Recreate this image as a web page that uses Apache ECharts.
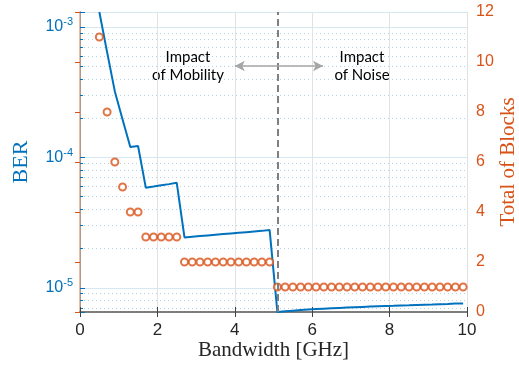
<!DOCTYPE html>
<html>
<head>
<meta charset="utf-8">
<script src="https://cdn.jsdelivr.net/npm/echarts@6/dist/echarts.min.js"></script>
<style>
  html, body { margin: 0; padding: 0; background: #fff; }
  #chart { width: 519px; height: 367px; }
</style>
</head>
<body>
<div id="chart"></div>
<script>
// bandwidth samples [GHz]
var bandwidth = [0.5, 0.7, 0.9, 1.1, 1.3, 1.5, 1.7, 1.9, 2.1, 2.3, 2.5,
    2.7, 2.9, 3.1, 3.3, 3.5, 3.7, 3.9, 4.1, 4.3, 4.5, 4.7, 4.9,
    5.1, 5.3, 5.5, 5.7, 5.9, 6.1, 6.3, 6.5, 6.7, 6.9, 7.1, 7.3, 7.5, 7.7,
    7.9, 8.1, 8.3, 8.5, 8.7, 8.9, 9.1, 9.3, 9.5, 9.7, 9.9]
// bit error rate (left axis, log)
var ber = [1.30e-3, 6.4e-4, 3.2e-4, 1.95e-4, 1.20e-4, 1.22e-4,
    5.85e-5, 5.97e-5, 6.10e-5, 6.23e-5, 6.38e-5,
    2.43e-5, 2.46e-5, 2.49e-5, 2.52e-5, 2.55e-5, 2.58e-5, 2.61e-5, 2.64e-5, 2.67e-5, 2.70e-5, 2.73e-5, 2.77e-5,
    6.52e-6, 6.60e-6, 6.67e-6, 6.74e-6, 6.80e-6, 6.86e-6, 6.91e-6, 6.96e-6, 7.01e-6, 7.05e-6, 7.09e-6, 7.13e-6,
    7.17e-6, 7.21e-6, 7.25e-6, 7.28e-6, 7.32e-6, 7.35e-6, 7.39e-6, 7.42e-6, 7.45e-6, 7.49e-6, 7.52e-6, 7.56e-6, 7.59e-6]
// total of blocks (right axis)
var blocks = [11, 8, 6, 5, 4, 4,
    3, 3, 3, 3, 3,
    2, 2, 2, 2, 2, 2, 2, 2, 2, 2, 2, 2,
    1, 1, 1, 1, 1, 1, 1, 1, 1, 1, 1, 1, 1, 1, 1, 1, 1, 1, 1, 1, 1, 1, 1, 1, 1]
var xTicks = [0, 2, 4, 6, 8, 10]
var blockTicks = [0, 2, 4, 6, 8, 10, 12]

var blue = '#0072BD'
var orange = '#D95319'
var sans = 'Liberation Sans'
var serif = 'Liberation Serif'

var myChart = echarts.init(document.getElementById('chart'))

var berData = bandwidth.map(function (x, i) { return [x, ber[i]] })
var blockData = bandwidth.map(function (x, i) { return [x, blocks[i]] })

var options = {
    animation: false,
    grid: { left: 80, right: 52, top: 12, bottom: 55, outerBoundsMode: 'none' },
    xAxis: [
        {
            type: 'value',
            min: xTicks[0],
            max: xTicks[xTicks.length - 1],
            interval: 2,
            name: 'Bandwidth [GHz]',
            nameLocation: 'middle',
            nameMoveOverlap: false,
            nameGap: 28,
            nameTextStyle: { fontFamily: serif, fontSize: 21, color: '#262626' },
            axisLine: { onZero: false, lineStyle: { color: '#777', width: 1.5 } },
            axisTick: { inside: true, length: 5, lineStyle: { color: '#444' } },
            axisLabel: { fontFamily: sans, fontSize: 17, color: '#262626', margin: 10 },
            splitLine: { show: true, lineStyle: { color: '#e2e2e2', width: 1 } }
        },
        {
            type: 'value',
            position: 'top',
            min: xTicks[0],
            max: xTicks[xTicks.length - 1],
            interval: 2,
            axisLine: { lineStyle: { color: '#777', width: 1.5 } },
            axisTick: { inside: true, length: 5, lineStyle: { color: '#444' } },
            axisLabel: { show: false },
            splitLine: { show: false }
        }
    ],
    yAxis: [
        {
            type: 'log',
            logBase: 10,
            min: 6.52e-6,
            max: 1.30e-3,
            position: 'left',
            name: 'BER',
            nameLocation: 'middle',
            nameMoveOverlap: false,
            nameGap: 48,
            nameTextStyle: { fontFamily: serif, fontSize: 22, color: blue },
            axisLine: { show: true, lineStyle: { color: blue, width: 1 } },
            axisTick: { inside: true, length: 5, lineStyle: { color: blue } },
            minorTick: { show: true, splitNumber: 9, length: 3, lineStyle: { color: blue } },
            axisLabel: {
                margin: 7,
                showMinLabel: false,
                showMaxLabel: false,
                formatter: function (v) {
                    var e = Math.round(Math.log10(v))
                    if (Math.abs(v / Math.pow(10, e) - 1) > 1e-6) return ''
                    return '{b|10}{s|' + e + '}'
                },
                rich: {
                    b: { fontFamily: sans, fontSize: 16, color: blue },
                    s: { fontFamily: sans, fontSize: 11, color: blue, verticalAlign: 'bottom', padding: [0, 0, 9, 0] }
                }
            },
            splitLine: { show: true, lineStyle: { color: 'rgba(0,114,189,0.16)', width: 1 } },
            minorSplitLine: { show: true, lineStyle: { color: 'rgba(0,114,189,0.3)', width: 1, type: [1, 3] } }
        },
        {
            type: 'value',
            min: blockTicks[0],
            max: blockTicks[blockTicks.length - 1],
            interval: 2,
            position: 'right',
            name: 'Total of Blocks',
            nameLocation: 'middle',
            nameMoveOverlap: false,
            nameGap: 31,
            nameTextStyle: { fontFamily: serif, fontSize: 21, color: orange },
            axisLine: { show: true, lineStyle: { color: '#eba485', width: 1.5 } },
            axisTick: { show: true, inside: true, length: 5, lineStyle: { color: orange } },
            axisLabel: { fontFamily: sans, fontSize: 16, color: orange, margin: 9 },
            splitLine: { show: false }
        }
    ],
    series: [
        {
            name: 'BER',
            type: 'line',
            xAxisIndex: 0,
            yAxisIndex: 0,
            data: berData,
            showSymbol: false,
            lineStyle: { color: blue, width: 2 },
            itemStyle: { color: blue },
            z: 3
        },
        {
            name: 'Blocks',
            type: 'scatter',
            xAxisIndex: 0,
            yAxisIndex: 1,
            data: blockData,
            symbol: 'emptyCircle',
            symbolSize: 7,
            itemStyle: { color: orange, borderWidth: 2 },
            z: 4,
            markLine: {
                silent: true,
                symbol: ['none', 'none'],
                label: { show: false },
                data: [
                    // separation between the two regimes
                    { xAxis: 5.1, lineStyle: { color: '#7f7f7f', width: 2, type: [7, 4] } },
                    // double arrow between the annotations
                    [
                        { coord: [4.0, 9.84], symbol: 'arrow', symbolSize: [8, 10], lineStyle: { color: '#a6a6a6', width: 1.5, type: 'solid' } },
                        { coord: [6.28, 9.84], symbol: 'arrow', symbolSize: [8, 10] }
                    ]
                ]
            }
        }
    ],
    graphic: [
        {
            type: 'text', x: 188, y: 66,
            style: {
                text: 'Impact\nof Mobility', fontFamily: 'Lato', fontSize: 15, lineHeight: 18,
                fill: '#000', align: 'center', verticalAlign: 'middle'
            }
        },
        {
            type: 'text', x: 362, y: 66,
            style: {
                text: 'Impact\nof Noise', fontFamily: 'Lato', fontSize: 15, lineHeight: 18,
                fill: '#000', align: 'center', verticalAlign: 'middle'
            }
        }
    ]
}
myChart.setOption(options)
window.addEventListener('resize', myChart.resize)
</script>
</body>
</html>
